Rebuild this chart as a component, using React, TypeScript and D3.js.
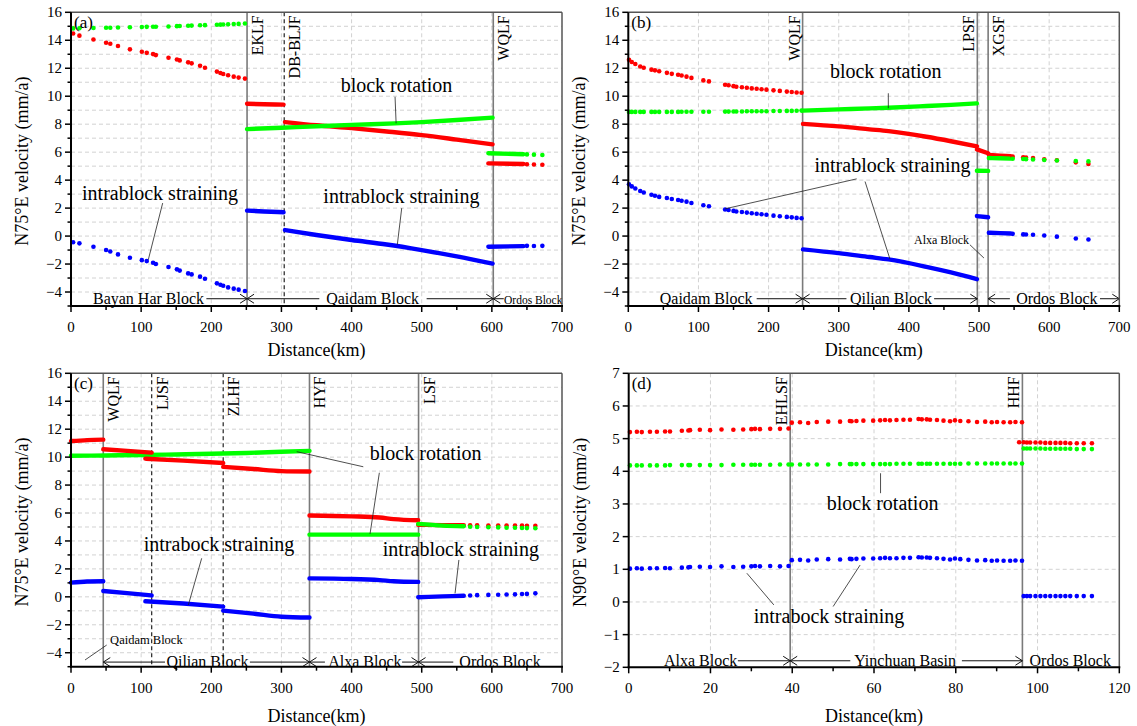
import React from 'react'
import * as d3 from 'd3'

const FONT = '"Liberation Serif", "Times New Roman", serif'
const RED = '#ff0000'
const GREEN = '#00ff00'
const BLUE = '#0000ff'

// ---------- panel (a) ----------
const aBayanKm = [3, 12, 32, 50, 56, 67, 84, 101, 108, 117, 121, 139, 151, 155, 167, 172, 184, 191, 208, 213, 217, 224, 232, 239, 248]
const aBayanTotal = [14.48, 14.33, 14.06, 13.82, 13.75, 13.59, 13.35, 13.18, 13.1, 13.01, 12.94, 12.75, 12.63, 12.56, 12.42, 12.35, 12.18, 12.04, 11.76, 11.66, 11.59, 11.5, 11.4, 11.33, 11.26]
const aBayanRotation = [14.85, 14.86, 14.88, 14.9, 14.9, 14.91, 14.93, 14.95, 14.96, 14.97, 14.97, 14.99, 15.01, 15.02, 15.04, 15.05, 15.07, 15.08, 15.11, 15.12, 15.13, 15.15, 15.16, 15.17, 15.2]
const aBayanStraining = [-0.44, -0.52, -0.76, -1.0, -1.1, -1.31, -1.55, -1.72, -1.79, -1.91, -2.0, -2.21, -2.38, -2.47, -2.67, -2.74, -2.9, -3.05, -3.38, -3.48, -3.55, -3.67, -3.76, -3.83, -3.93]
const aEklfKm = [251, 275, 303]
const aEklfTotal = [9.46, 9.43, 9.4]
const aEklfStraining = [1.82, 1.76, 1.7]
const aQaidamRotKm = [251, 300, 350, 400, 462, 500, 550, 601]
const aQaidamRotation = [7.65, 7.75, 7.85, 7.95, 8.06, 8.15, 8.3, 8.47]
const aQaidamKm = [305, 350, 400, 450, 500, 550, 601]
const aQaidamTotal = [8.15, 7.92, 7.72, 7.48, 7.22, 6.9, 6.56]
const aQaidamStraining = [0.43, 0.08, -0.28, -0.6, -1.0, -1.45, -1.97]
const aOrdosDenseKm = [595, 645]
const aOrdosDenseTotal = [5.2, 5.15]
const aOrdosDenseRotation = [5.92, 5.85]
const aOrdosDenseStraining = [-0.76, -0.72]
const aOrdosKm = [650, 660, 672]
const aOrdosTotal = [5.14, 5.12, 5.1]
const aOrdosRotation = [5.84, 5.82, 5.8]
const aOrdosStraining = [-0.7, -0.71, -0.7]

// ---------- panel (b) ----------
const bQaidamKm = [1, 5, 10, 17, 22, 33, 38, 44, 55, 62, 71, 76, 83, 90, 107, 115, 138, 143, 150, 154, 162, 169, 176, 183, 190, 197, 207, 216, 226, 233, 240, 247]
const bQaidamTotal = [12.6, 12.45, 12.3, 12.12, 12.04, 11.9, 11.85, 11.78, 11.67, 11.6, 11.53, 11.48, 11.4, 11.31, 11.13, 11.06, 10.82, 10.78, 10.72, 10.68, 10.64, 10.6, 10.56, 10.53, 10.5, 10.47, 10.42, 10.38, 10.33, 10.3, 10.27, 10.25]
const bQaidamRotation = [8.88, 8.88, 8.88, 8.88, 8.88, 8.88, 8.88, 8.88, 8.88, 8.88, 8.88, 8.89, 8.89, 8.89, 8.89, 8.89, 8.9, 8.9, 8.91, 8.91, 8.91, 8.92, 8.92, 8.93, 8.93, 8.93, 8.94, 8.94, 8.95, 8.95, 8.96, 8.97]
const bQaidamStraining = [3.7, 3.55, 3.4, 3.22, 3.12, 2.95, 2.88, 2.8, 2.72, 2.65, 2.58, 2.53, 2.46, 2.37, 2.2, 2.13, 1.9, 1.86, 1.8, 1.76, 1.72, 1.68, 1.63, 1.6, 1.56, 1.52, 1.46, 1.42, 1.37, 1.34, 1.3, 1.27]
const bQilianKm = [249, 300, 344, 371, 425, 460, 497]
const bQilianTotal = [8.02, 7.84, 7.63, 7.5, 7.1, 6.78, 6.41]
const bQilianRotation = [8.97, 9.06, 9.13, 9.18, 9.3, 9.38, 9.49]
const bQilianStraining = [-0.95, -1.22, -1.5, -1.67, -2.2, -2.6, -3.08]
const bAlxaKm = [497, 513]
const bAlxaTotal = [6.2, 5.92]
const bAlxaRotation = [4.67, 4.66]
const bAlxaStraining = [1.43, 1.35]
const bOrdosDenseKm = [514, 530, 545]
const bOrdosDenseTotal = [5.8, 5.75, 5.71]
const bOrdosDenseRotation = [5.58, 5.56, 5.54]
const bOrdosDenseStraining = [0.24, 0.21, 0.18]
const bOrdosKm = [548, 563, 567, 577, 593, 611, 638, 656]
const bOrdosTotal = [5.68, 5.63, 5.62, 5.58, 5.49, 5.42, 5.27, 5.15]
const bOrdosRotation = [5.53, 5.51, 5.5, 5.48, 5.44, 5.4, 5.37, 5.34]
const bOrdosStraining = [0.16, 0.12, 0.11, 0.09, 0.04, -0.04, -0.17, -0.24]

// ---------- panel (c) ----------
const cRotKm = [0, 50, 100, 150, 200, 250, 300, 340]
const cRotation = [10.1, 10.12, 10.15, 10.19, 10.24, 10.3, 10.38, 10.45]
const cQaidamKm = [0, 23, 46]
const cQaidamTotal = [11.15, 11.22, 11.25]
const cQaidamStraining = [1.02, 1.1, 1.12]
const cWqlfKm = [46, 80, 115]
const cWqlfTotal = [10.56, 10.45, 10.32]
const cWqlfStraining = [0.42, 0.27, 0.1]
const cLjsfKm = [106, 160, 217]
const cLjsfTotal = [9.89, 9.75, 9.58]
const cLjsfStraining = [-0.32, -0.48, -0.7]
const cZlhfKm = [217, 260, 300, 340]
const cZlhfTotal = [9.3, 9.15, 9.0, 8.97]
const cZlhfStraining = [-0.99, -1.2, -1.42, -1.48]
const cAlxaKm = [340, 400, 440, 460, 495]
const cAlxaTotal = [5.82, 5.76, 5.68, 5.56, 5.48]
const cAlxaRotation = [4.45, 4.45, 4.45, 4.45, 4.45]
const cAlxaStraining = [1.32, 1.28, 1.2, 1.12, 1.07]
const cOrdosDenseKm = [495, 530, 560]
const cOrdosDenseTotal = [5.16, 5.13, 5.12]
const cOrdosDenseRotation = [5.22, 5.1, 5.05]
const cOrdosDenseStraining = [-0.03, 0.03, 0.08]
const cOrdosKm = [569, 579, 595, 609, 621, 633, 643, 650, 662]
const cOrdosTotal = [5.12, 5.12, 5.11, 5.11, 5.1, 5.1, 5.1, 5.09, 5.08]
const cOrdosRotation = [5.02, 5.0, 4.98, 4.97, 4.95, 4.94, 4.93, 4.92, 4.91]
const cOrdosStraining = [0.1, 0.12, 0.14, 0.15, 0.17, 0.18, 0.2, 0.21, 0.25]

// ---------- panel (d) ----------
const dAlxaKm = [0.3, 2, 3.2, 5.2, 6.9, 8.9, 10.1, 13, 14.6, 15, 17.4, 19.9, 22.7, 25.6, 28, 30, 30.9, 32.1, 34.6, 37, 39.1]
const dAlxaTotal = [5.2, 5.21, 5.2, 5.21, 5.21, 5.22, 5.22, 5.24, 5.25, 5.26, 5.27, 5.26, 5.28, 5.27, 5.28, 5.29, 5.3, 5.29, 5.3, 5.3, 5.31]
const dAlxaRotation = [4.18, 4.18, 4.18, 4.18, 4.18, 4.18, 4.19, 4.19, 4.19, 4.19, 4.19, 4.19, 4.19, 4.2, 4.2, 4.2, 4.2, 4.2, 4.2, 4.21, 4.21]
const dAlxaStraining = [1.02, 1.03, 1.02, 1.03, 1.03, 1.04, 1.03, 1.05, 1.06, 1.07, 1.08, 1.07, 1.09, 1.07, 1.08, 1.09, 1.1, 1.09, 1.1, 1.09, 1.1]
const dYinchuanKm = [39.9, 41.9, 43.9, 46, 48.8, 51.7, 54.1, 54.5, 55.7, 57.4, 59.8, 61.5, 62.7, 63.9, 65.5, 67.2, 68.8, 70.9, 71.7, 72.9, 73.7, 75.4, 77, 78.6, 79.8, 81.1, 83.1, 85.2, 87.2, 88.8, 90.1, 91.7, 93.3, 94.6, 96.2]
const dYinchuanTotal = [5.49, 5.5, 5.48, 5.51, 5.52, 5.52, 5.54, 5.53, 5.54, 5.55, 5.55, 5.56, 5.57, 5.56, 5.57, 5.58, 5.58, 5.6, 5.59, 5.59, 5.58, 5.57, 5.55, 5.53, 5.56, 5.54, 5.53, 5.51, 5.52, 5.5, 5.51, 5.5, 5.5, 5.51, 5.5]
const dYinchuanRotation = [4.21, 4.21, 4.21, 4.21, 4.21, 4.22, 4.22, 4.22, 4.22, 4.22, 4.22, 4.22, 4.22, 4.22, 4.23, 4.23, 4.23, 4.23, 4.23, 4.23, 4.23, 4.23, 4.23, 4.23, 4.23, 4.23, 4.24, 4.24, 4.24, 4.24, 4.24, 4.24, 4.24, 4.24, 4.24]
const dYinchuanStraining = [1.28, 1.29, 1.27, 1.3, 1.31, 1.3, 1.32, 1.31, 1.32, 1.33, 1.33, 1.34, 1.35, 1.34, 1.34, 1.35, 1.35, 1.37, 1.36, 1.36, 1.35, 1.34, 1.32, 1.3, 1.33, 1.31, 1.29, 1.27, 1.28, 1.26, 1.27, 1.26, 1.26, 1.27, 1.26]
const dOrdosKm = [95.5, 96.6, 97.4, 98.2, 99.5, 100.7, 101.9, 103.1, 104.4, 105.6, 106.8, 108, 109.6, 111.3, 113.3]
const dOrdosTotal = [4.89, 4.89, 4.88, 4.88, 4.88, 4.88, 4.87, 4.87, 4.87, 4.87, 4.87, 4.86, 4.86, 4.86, 4.86]
const dOrdosRotation = [4.7, 4.7, 4.7, 4.7, 4.7, 4.7, 4.69, 4.69, 4.69, 4.69, 4.69, 4.69, 4.68, 4.68, 4.68]
const dOrdosStraining = [0.18, 0.18, 0.18, 0.18, 0.18, 0.18, 0.18, 0.18, 0.18, 0.18, 0.18, 0.18, 0.18, 0.18, 0.18]

type Series = { km: number[]; v: number[]; color: string; dense?: boolean }
type Fault = { km: number; name: string; dashed?: boolean; side: 1 | -1 }
type Block = { text: string; at: number; size?: number; arrows: [number, number][] }
type Note = { text: string; at: [number, number]; size?: number }

type PanelCfg = {
  tag: string; left: number; top: number; width: number; height: number
  xDomain: [number, number]; xMajor: number; xMinor: number
  yDomain: [number, number]; yMajor: number; yMinor: number
  yTitle: string; series: Series[]; faults: Fault[]
  blockY: number; blocks: Block[]; notes: Note[]; leaders: number[][]
}

const s = (km: number[], v: number[], color: string, dense = false): Series => ({ km, v, color, dense })

const panels: PanelCfg[] = [
  {
    tag: '(a)', left: 71, top: 12.3, width: 491, height: 293.7,
    xDomain: [0, 700], xMajor: 100, xMinor: 50, yDomain: [-5, 16], yMajor: 2, yMinor: 1,
    yTitle: 'N75°E velocity (mm/a)',
    series: [
      s(aBayanKm, aBayanTotal, RED), s(aBayanKm, aBayanRotation, GREEN), s(aBayanKm, aBayanStraining, BLUE),
      s(aEklfKm, aEklfTotal, RED, true), s(aEklfKm, aEklfStraining, BLUE, true),
      s(aQaidamKm, aQaidamTotal, RED, true), s(aQaidamRotKm, aQaidamRotation, GREEN, true), s(aQaidamKm, aQaidamStraining, BLUE, true),
      s(aOrdosDenseKm, aOrdosDenseTotal, RED, true), s(aOrdosDenseKm, aOrdosDenseRotation, GREEN, true), s(aOrdosDenseKm, aOrdosDenseStraining, BLUE, true),
      s(aOrdosKm, aOrdosTotal, RED), s(aOrdosKm, aOrdosRotation, GREEN), s(aOrdosKm, aOrdosStraining, BLUE),
    ],
    faults: [
      { km: 251, name: 'EKLF', side: 1 },
      { km: 304, name: 'DB-BLJF', side: 1, dashed: true },
      { km: 602, name: 'WQLF', side: 1 },
    ],
    blockY: -4.48,
    blocks: [
      { text: 'Bayan Har Block', at: 110.5, arrows: [[193, 251]] },
      { text: 'Qaidam Block', at: 430, arrows: [[354, 251], [507, 602]] },
      { text: 'Ordos Block', at: 659, size: 11.5, arrows: [[617, 602]] },
    ],
    notes: [
      { text: 'block rotation', at: [464, 10.3] },
      { text: 'intrablock straining', at: [471, 2.38] },
      { text: 'intrablock straining', at: [127, 2.59] },
    ],
    leaders: [[462, 9.96, 463.5, 8.06], [471.5, 2.0, 465.2, -0.62], [130.7, 2.36, 110.2, -1.69]],
  },
  {
    tag: '(b)', left: 628.3, top: 12.3, width: 491, height: 293.7,
    xDomain: [0, 700], xMajor: 100, xMinor: 50, yDomain: [-5, 16], yMajor: 2, yMinor: 1,
    yTitle: 'N75°E velocity (mm/a)',
    series: [
      s(bQaidamKm, bQaidamTotal, RED), s(bQaidamKm, bQaidamRotation, GREEN), s(bQaidamKm, bQaidamStraining, BLUE),
      s(bQilianKm, bQilianTotal, RED, true), s(bQilianKm, bQilianRotation, GREEN, true), s(bQilianKm, bQilianStraining, BLUE, true),
      s(bAlxaKm, bAlxaTotal, RED, true), s(bAlxaKm, bAlxaRotation, GREEN, true), s(bAlxaKm, bAlxaStraining, BLUE, true),
      s(bOrdosDenseKm, bOrdosDenseTotal, RED, true), s(bOrdosDenseKm, bOrdosDenseRotation, GREEN, true), s(bOrdosDenseKm, bOrdosDenseStraining, BLUE, true),
      s(bOrdosKm, bOrdosTotal, RED), s(bOrdosKm, bOrdosRotation, GREEN), s(bOrdosKm, bOrdosStraining, BLUE),
    ],
    faults: [
      { km: 248.5, name: 'WQLF', side: -1 },
      { km: 497.6, name: 'LPSF', side: -1 },
      { km: 513, name: 'XGSF', side: 1 },
    ],
    blockY: -4.48,
    blocks: [
      { text: 'Qaidam Block', at: 111, arrows: [[183, 248.5]] },
      { text: 'Qilian Block', at: 374.5, arrows: [[311, 248.5], [436, 497.6]] },
      { text: 'Ordos Block', at: 611, arrows: [[544, 513], [672.5, 700]] },
    ],
    notes: [
      { text: 'block rotation', at: [367, 11.3] },
      { text: 'intrablock straining', at: [376.7, 4.56] },
      { text: 'Alxa Block', at: [446.5, -0.55], size: 12 },
    ],
    leaders: [[370.7, 10.21, 370.7, 9.14], [325.6, 4.09, 138, 1.95], [337.5, 3.9, 373, -1.64], [487, -0.62, 507, -1.57]],
  },
  {
    tag: '(c)', left: 71, top: 373.3, width: 491, height: 293.4,
    xDomain: [0, 700], xMajor: 100, xMinor: 50, yDomain: [-5, 16], yMajor: 2, yMinor: 1,
    yTitle: 'N75°E velocity (mm/a)',
    series: [
      s(cQaidamKm, cQaidamTotal, RED, true), s(cRotKm, cRotation, GREEN, true), s(cQaidamKm, cQaidamStraining, BLUE, true),
      s(cWqlfKm, cWqlfTotal, RED, true), s(cWqlfKm, cWqlfStraining, BLUE, true),
      s(cLjsfKm, cLjsfTotal, RED, true), s(cLjsfKm, cLjsfStraining, BLUE, true),
      s(cZlhfKm, cZlhfTotal, RED, true), s(cZlhfKm, cZlhfStraining, BLUE, true),
      s(cAlxaKm, cAlxaTotal, RED, true), s(cAlxaKm, cAlxaRotation, GREEN, true), s(cAlxaKm, cAlxaStraining, BLUE, true),
      s(cOrdosDenseKm, cOrdosDenseTotal, RED, true), s(cOrdosDenseKm, cOrdosDenseRotation, GREEN, true), s(cOrdosDenseKm, cOrdosDenseStraining, BLUE, true),
      s(cOrdosKm, cOrdosTotal, RED), s(cOrdosKm, cOrdosRotation, GREEN), s(cOrdosKm, cOrdosStraining, BLUE),
    ],
    faults: [
      { km: 46, name: 'WQLF', side: 1 },
      { km: 115, name: 'LJSF', side: 1, dashed: true },
      { km: 217, name: 'ZLHF', side: 1, dashed: true },
      { km: 340, name: 'HYF', side: 1 },
      { km: 495.5, name: 'LSF', side: 1 },
    ],
    blockY: -4.67,
    blocks: [
      { text: 'Qilian Block', at: 194.6, arrows: [[134, 46], [255, 340]] },
      { text: 'Alxa Block', at: 419, arrows: [[362, 340], [472, 495.5]] },
      { text: 'Ordos Block', at: 611.6, arrows: [[545, 495.5]] },
    ],
    notes: [
      { text: 'block rotation', at: [505.6, 9.79] },
      { text: 'intrabock straining', at: [211, 3.27] },
      { text: 'intrablock straining', at: [555.8, 2.92] },
      { text: 'Qaidam Block', at: [107.5, -3.38], size: 12.5 },
    ],
    leaders: [[321.8, 10.39, 416.7, 9.31], [439.6, 8.88, 426.3, 4.5], [186.3, 2.76, 167.3, -0.58], [553, 2.64, 547.5, 0.25], [50.9, -3.45, 20, -4.52]],
  },
  {
    tag: '(d)', left: 628.7, top: 373.3, width: 490.6, height: 294,
    xDomain: [0, 120], xMajor: 20, xMinor: 10, yDomain: [-2, 7], yMajor: 1, yMinor: 1,
    yTitle: 'N90°E velocity (mm/a)',
    series: [
      s(dAlxaKm, dAlxaTotal, RED), s(dAlxaKm, dAlxaRotation, GREEN), s(dAlxaKm, dAlxaStraining, BLUE),
      s(dYinchuanKm, dYinchuanTotal, RED), s(dYinchuanKm, dYinchuanRotation, GREEN), s(dYinchuanKm, dYinchuanStraining, BLUE),
      s(dOrdosKm, dOrdosTotal, RED), s(dOrdosKm.slice(1), dOrdosRotation.slice(1), GREEN), s(dOrdosKm.slice(1), dOrdosStraining.slice(1), BLUE),
    ],
    faults: [
      { km: 39.5, name: 'EHLSF', side: -1 },
      { km: 96.3, name: 'HHF', side: -1 },
    ],
    blockY: -1.8,
    blocks: [
      { text: 'Alxa Block', at: 17.6, arrows: [[26.7, 39.5]] },
      { text: 'Yinchuan Basin', at: 67.6, arrows: [[54.2, 39.5], [81.5, 96.3]] },
      { text: 'Ordos Block', at: 108, arrows: [] },
    ],
    notes: [
      { text: 'block rotation', at: [62.1, 2.81] },
      { text: 'intrabock straining', at: [49, -0.64] },
    ],
    leaders: [[61.6, 3.94, 61.6, 3.33], [35.5, -0.09, 28.9, 0.88], [50, -0.14, 56.6, 1.13]],
  },
]

const fmt = (v: number) => String(v).replace('-', '\u2212')

function Panel({ p }: { p: PanelCfg }) {
  const x = d3.scaleLinear().domain(p.xDomain).range([p.left, p.left + p.width])
  const y = d3.scaleLinear().domain(p.yDomain).range([p.top + p.height, p.top])
  const [x0, x1] = p.xDomain
  const [y0, y1] = p.yDomain
  const bottom = p.top + p.height
  const right = p.left + p.width
  const xMajor = d3.range(x0, x1 + 1e-6, p.xMajor)
  const xMinor = d3.range(x0, x1 + 1e-6, p.xMinor).filter((v) => !xMajor.includes(v))
  const yMajor = d3.range(Math.ceil(y0 / p.yMajor) * p.yMajor, y1 + 1e-6, p.yMajor)
  const yAll = d3.range(y0, y1 + 1e-6, p.yMinor)
  const yMinor = yAll.filter((v) => !yMajor.includes(v))
  const line = d3.line<[number, number]>().x((d) => x(d[0])).y((d) => y(d[1])).curve(d3.curveMonotoneX)
  const by = y(p.blockY)

  return (
    <g fontFamily={FONT}>
      {/* grid */}
      {yAll.filter((v) => v > y0 && v < y1).map((v) => (
        <line key={'gy' + v} x1={p.left} x2={right} y1={y(v)} y2={y(v)} stroke="#d2d2d2" strokeDasharray="4,3" />
      ))}
      {xMajor.filter((v) => v > x0 && v < x1).map((v) => (
        <line key={'gx' + v} x1={x(v)} x2={x(v)} y1={p.top} y2={bottom} stroke="#d2d2d2" strokeDasharray="4,3" />
      ))}

      {/* faults */}
      {p.faults.map((f) => (
        <g key={f.name}>
          <line x1={x(f.km)} x2={x(f.km)} y1={p.top} y2={bottom}
            stroke={f.dashed ? '#333' : '#7a7a7a'} strokeWidth={f.dashed ? 1.3 : 1.6}
            strokeDasharray={f.dashed ? '4,3' : undefined} />
          <text transform={`translate(${x(f.km) + (f.side > 0 ? 16 : -3)},${p.top + 3}) rotate(-90)`}
            textAnchor="end" fontSize={16}>{f.name}</text>
        </g>
      ))}

      {/* data */}
      {p.series.map((sr, i) => {
        const pts = sr.km.map((k, j) => [k, sr.v[j]] as [number, number])
        return sr.dense ? (
          <path key={i} d={line(pts) ?? ''} fill="none" stroke={sr.color} strokeWidth={4.4} strokeLinecap="round" />
        ) : (
          <g key={i} fill={sr.color}>
            {pts.map((d, j) => <circle key={j} cx={x(d[0])} cy={y(d[1])} r={2.3} />)}
          </g>
        )
      })}

      {/* annotations */}
      {p.leaders.map((l, i) => (
        <line key={'ld' + i} x1={x(l[0])} y1={y(l[1])} x2={x(l[2])} y2={y(l[3])} stroke="#222" strokeWidth={0.8} />
      ))}
      {p.notes.map((n, i) => (
        <text key={'nt' + i} x={x(n.at[0])} y={y(n.at[1])} textAnchor="middle" fontSize={n.size ?? 20}>{n.text}</text>
      ))}

      {/* block labels with arrows */}
      {p.blocks.map((b) => (
        <g key={b.text}>
          <text x={x(b.at)} y={by + 5} textAnchor="middle" fontSize={b.size ?? 16}>{b.text}</text>
          {b.arrows.map(([from, to], i) => {
            const dir = to > from ? 1 : -1
            const tx = x(to)
            return (
              <g key={i} stroke="#111" strokeWidth={1} fill="none">
                <line x1={x(from)} x2={tx} y1={by} y2={by} />
                <path d={`M${tx - dir * 7},${by - 4.5}L${tx},${by}L${tx - dir * 7},${by + 4.5}`} />
              </g>
            )
          })}
        </g>
      ))}

      {/* frame */}
      <line x1={p.left} x2={right} y1={p.top} y2={p.top} stroke="#555" strokeWidth={1.5} />
      <line x1={right} x2={right} y1={p.top} y2={bottom} stroke="#555" strokeWidth={1.5} />
      <line x1={p.left} x2={p.left} y1={p.top} y2={bottom + 1} stroke="#000" strokeWidth={2} />
      <line x1={p.left - 1} x2={right + 1} y1={bottom} y2={bottom} stroke="#000" strokeWidth={2} />

      {/* y axis */}
      {yMajor.map((v) => (
        <g key={'yt' + v}>
          <line x1={p.left - 6} x2={p.left} y1={y(v)} y2={y(v)} stroke="#000" strokeWidth={1.5} />
          <text x={p.left - 9} y={y(v) + 5} textAnchor="end" fontSize={15}>{fmt(v)}</text>
        </g>
      ))}
      {yMinor.map((v) => (
        <line key={'ym' + v} x1={p.left - 3.5} x2={p.left} y1={y(v)} y2={y(v)} stroke="#000" strokeWidth={1.5} />
      ))}
      <text transform={`translate(${p.left - 43},${p.top + p.height / 2 + 2}) rotate(-90)`} textAnchor="middle" fontSize={18}>
        {p.yTitle}
      </text>

      {/* x axis */}
      {xMajor.map((v) => (
        <g key={'xt' + v}>
          <line x1={x(v)} x2={x(v)} y1={bottom} y2={bottom + 6} stroke="#000" strokeWidth={1.5} />
          <text x={x(v)} y={bottom + 26} textAnchor="middle" fontSize={15}>{fmt(v)}</text>
        </g>
      ))}
      {xMinor.map((v) => (
        <line key={'xm' + v} x1={x(v)} x2={x(v)} y1={bottom} y2={bottom + 4} stroke="#000" strokeWidth={1.5} />
      ))}
      <text x={p.left + p.width / 2} y={bottom + (p.top < 100 ? 50 : 55)} textAnchor="middle" fontSize={18}>Distance(km)</text>

      <text x={p.left + 3} y={p.top + 16} fontSize={17}>{p.tag}</text>
    </g>
  )
}

export default function App() {
  return (
    <svg width={1137} height={726} style={{ position: 'absolute', left: 0, top: 0, background: '#fff' }}>
      <rect width={1137} height={726} fill="#fff" />
      {panels.map((p) => <Panel key={p.tag} p={p} />)}
    </svg>
  )
}
